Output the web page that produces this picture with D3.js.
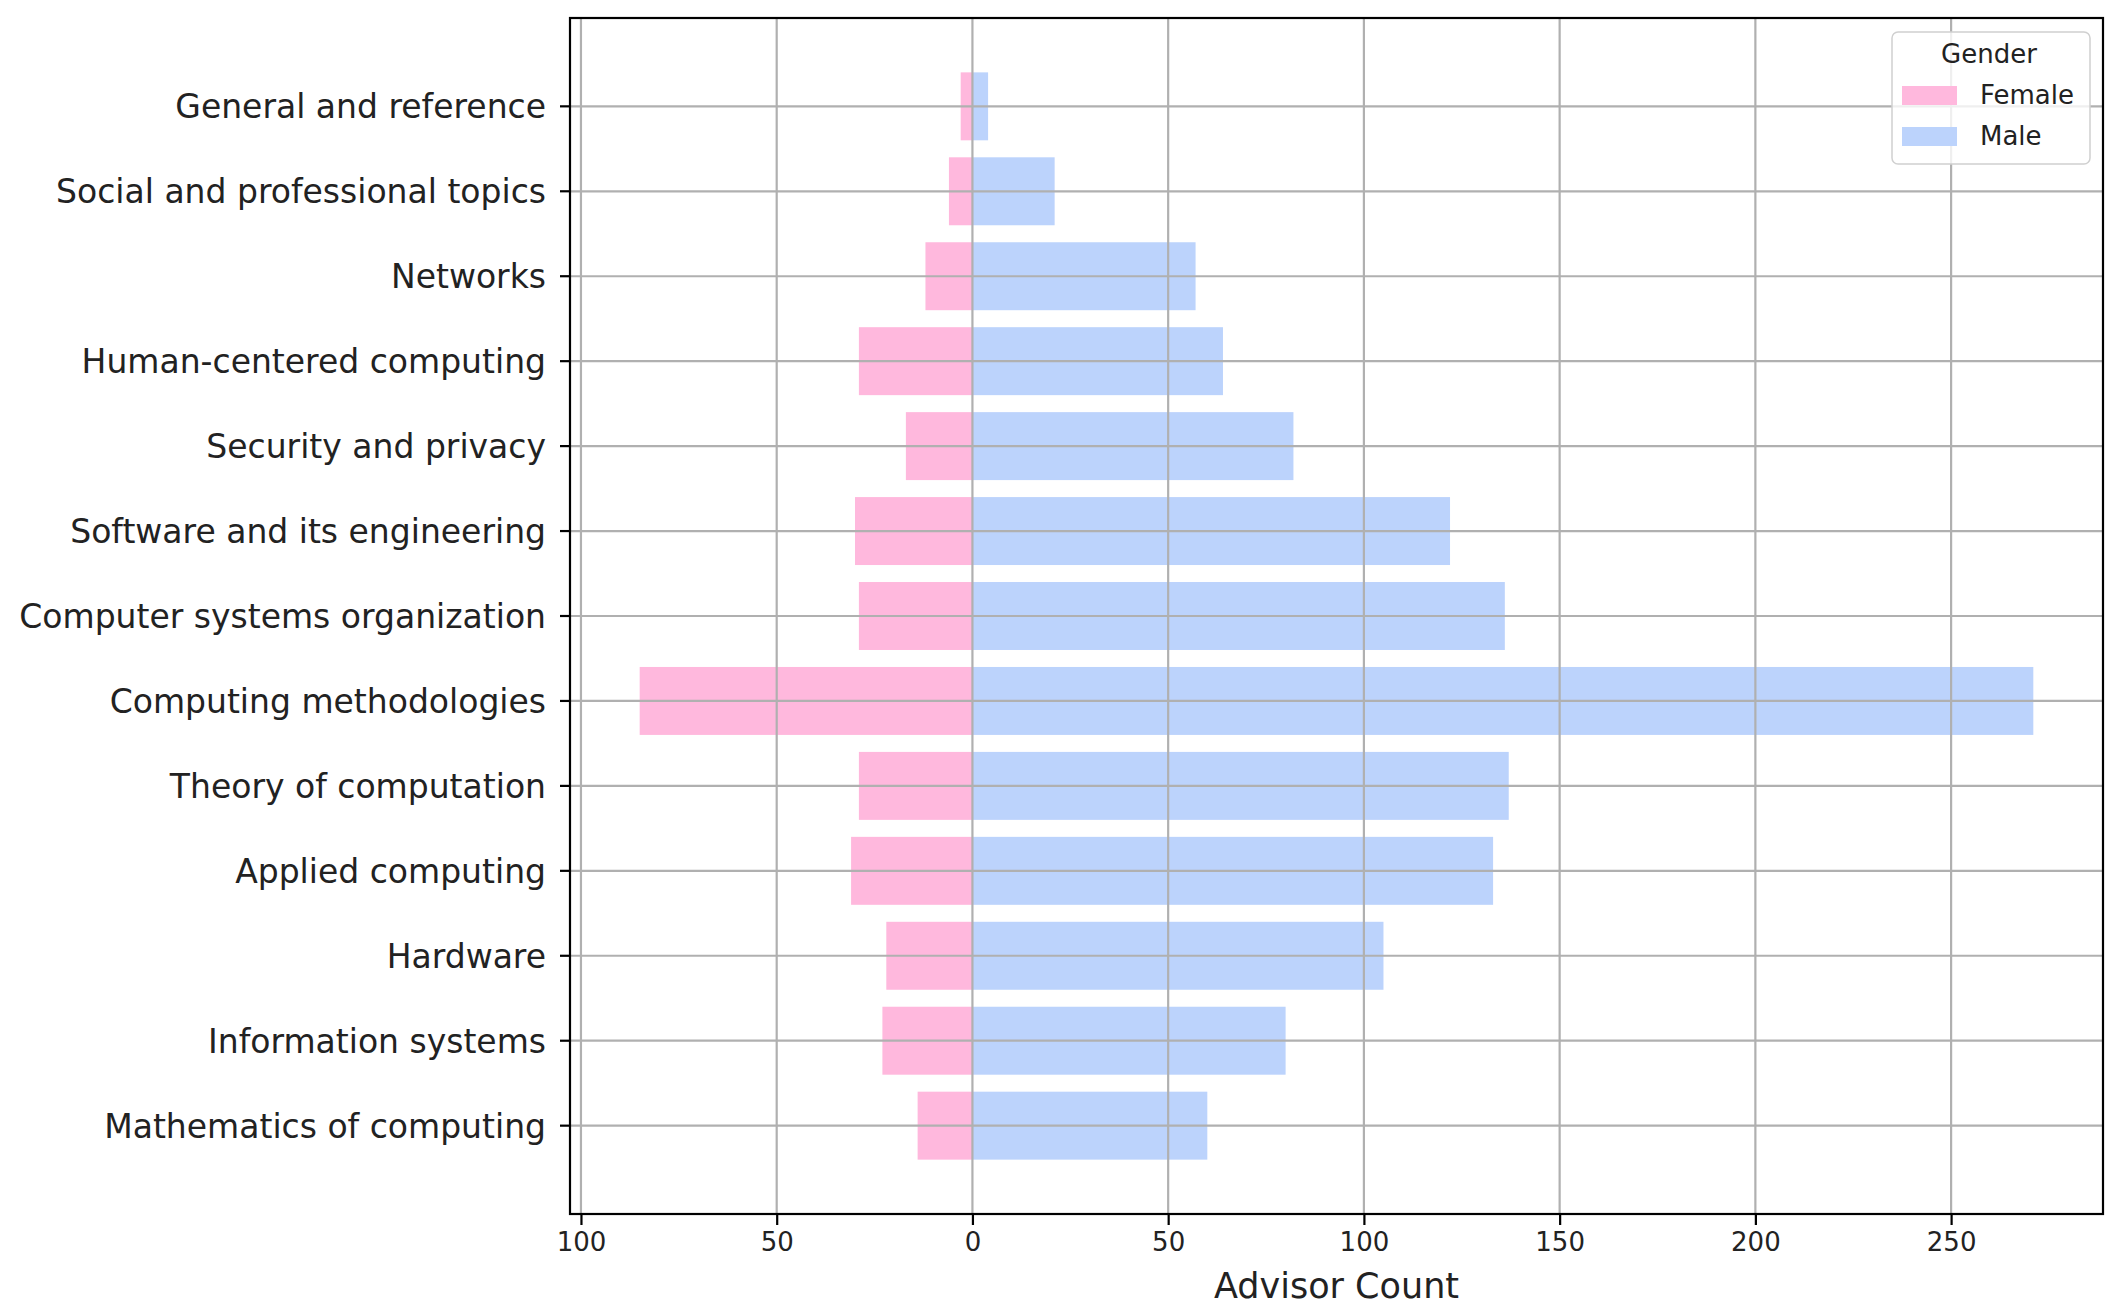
<!DOCTYPE html>
<html>
<head>
<meta charset="utf-8">
<script src="https://cdn.jsdelivr.net/npm/d3@7"></script>
<style>
  body { margin: 0; background: #fff; }
  svg, svg text, .axis { font-family: "DejaVu Sans", sans-serif; }
  .grid line { stroke: #b0b0b0; stroke-width: 2.2; }
  .axis path { display: none; }
  .axis line { stroke: #000; stroke-width: 2.2; }
  .axis text { fill: #222; }
</style>
</head>
<body>
<div id="chart"></div>
<script>
// Categories listed top to bottom
const categories = [
  'General and reference',
  'Social and professional topics',
  'Networks',
  'Human-centered computing',
  'Security and privacy',
  'Software and its engineering',
  'Computer systems organization',
  'Computing methodologies',
  'Theory of computation',
  'Applied computing',
  'Hardware',
  'Information systems',
  'Mathematics of computing'
];
const femaleCounts = [3, 6, 12, 29, 17, 30, 29, 85, 29, 31, 22, 23, 14];
const maleCounts   = [4, 21, 57, 64, 82, 122, 136, 271, 137, 133, 105, 80, 60];
const xTickValues  = [-100, -50, 0, 50, 100, 150, 200, 250];
const seriesNames  = ['Female', 'Male'];
const seriesColors = ['#ffb8dd', '#bcd3fc'];

const W = 2125, H = 1311;
const M = { left: 570, right: W - 2103, top: 18, bottom: H - 1214 };
const innerW = W - M.left - M.right;
const innerH = H - M.top - M.bottom;

const svg = d3.select('#chart').append('svg')
  .attr('width', W)
  .attr('height', H);

const g = svg.append('g').attr('transform', `translate(${M.left},${M.top})`);

// x domain with 5% padding, like the source plot
const lo = -d3.max(femaleCounts);
const hi = d3.max(maleCounts);
const pad = (hi - lo) * 0.05;
const x = d3.scaleLinear().domain([lo - pad, hi + pad]).range([0, innerW]);

const y = d3.scaleBand()
  .domain(categories)
  .range([0, innerH])
  .paddingInner(0.2)
  .paddingOuter(0.64);

// Bars (female to the left, male to the right)
const rows = categories.map((c, i) => ({ cat: c, female: femaleCounts[i], male: maleCounts[i] }));

g.append('g').selectAll('rect.female')
  .data(rows)
  .join('rect')
  .attr('class', 'female')
  .attr('x', d => x(-d.female))
  .attr('y', d => y(d.cat))
  .attr('width', d => x(0) - x(-d.female))
  .attr('height', y.bandwidth())
  .attr('fill', seriesColors[0]);

g.append('g').selectAll('rect.male')
  .data(rows)
  .join('rect')
  .attr('class', 'male')
  .attr('x', x(0))
  .attr('y', d => y(d.cat))
  .attr('width', d => x(d.male) - x(0))
  .attr('height', y.bandwidth())
  .attr('fill', seriesColors[1]);

// Grid drawn over the bars
const grid = g.append('g').attr('class', 'grid');
grid.selectAll('line.v')
  .data(xTickValues)
  .join('line')
  .attr('class', 'v')
  .attr('x1', d => x(d)).attr('x2', d => x(d))
  .attr('y1', 0).attr('y2', innerH);
grid.selectAll('line.h')
  .data(categories)
  .join('line')
  .attr('class', 'h')
  .attr('x1', 0).attr('x2', innerW)
  .attr('y1', d => y(d) + y.bandwidth() / 2)
  .attr('y2', d => y(d) + y.bandwidth() / 2);

// Axes
const xAxis = g.append('g')
  .attr('class', 'axis')
  .attr('transform', `translate(0,${innerH})`)
  .call(d3.axisBottom(x).tickValues(xTickValues).tickFormat(d => Math.abs(d)).tickSize(11).tickPadding(8));
xAxis.attr('font-family', null);
xAxis.selectAll('text').style('font-size', '26px');

const yAxis = g.append('g')
  .attr('class', 'axis')
  .call(d3.axisLeft(y).tickSize(10).tickPadding(14));
yAxis.attr('font-family', null);
yAxis.selectAll('text').style('font-size', '33px').attr('dy', '0.36em');

// Frame
g.append('rect')
  .attr('width', innerW)
  .attr('height', innerH)
  .attr('fill', 'none')
  .attr('stroke', '#000')
  .attr('stroke-width', 2.2);

// Axis title
svg.append('text')
  .attr('x', M.left + innerW / 2)
  .attr('y', 1298)
  .attr('text-anchor', 'middle')
  .style('font-size', '35px')
  .attr('fill', '#222')
  .text('Advisor Count');

// Legend
const legend = svg.append('g').attr('transform', 'translate(1892,32)');
legend.append('rect')
  .attr('width', 198)
  .attr('height', 132)
  .attr('rx', 6)
  .attr('fill', '#fff')
  .attr('fill-opacity', 0.8)
  .attr('stroke', '#d0d0d0')
  .attr('stroke-width', 1.5);
legend.append('text')
  .attr('x', 97)
  .attr('y', 31)
  .attr('text-anchor', 'middle')
  .style('font-size', '26px')
  .attr('fill', '#222')
  .text('Gender');
const items = legend.selectAll('g.item')
  .data(seriesNames)
  .join('g')
  .attr('class', 'item')
  .attr('transform', (d, i) => `translate(10,${54 + i * 41})`);
items.append('rect')
  .attr('width', 55)
  .attr('height', 19)
  .attr('fill', (d, i) => seriesColors[i]);
items.append('text')
  .attr('x', 78)
  .attr('y', 18)
  .style('font-size', '26px')
  .attr('fill', '#222')
  .text(d => d);
</script>
</body>
</html>
